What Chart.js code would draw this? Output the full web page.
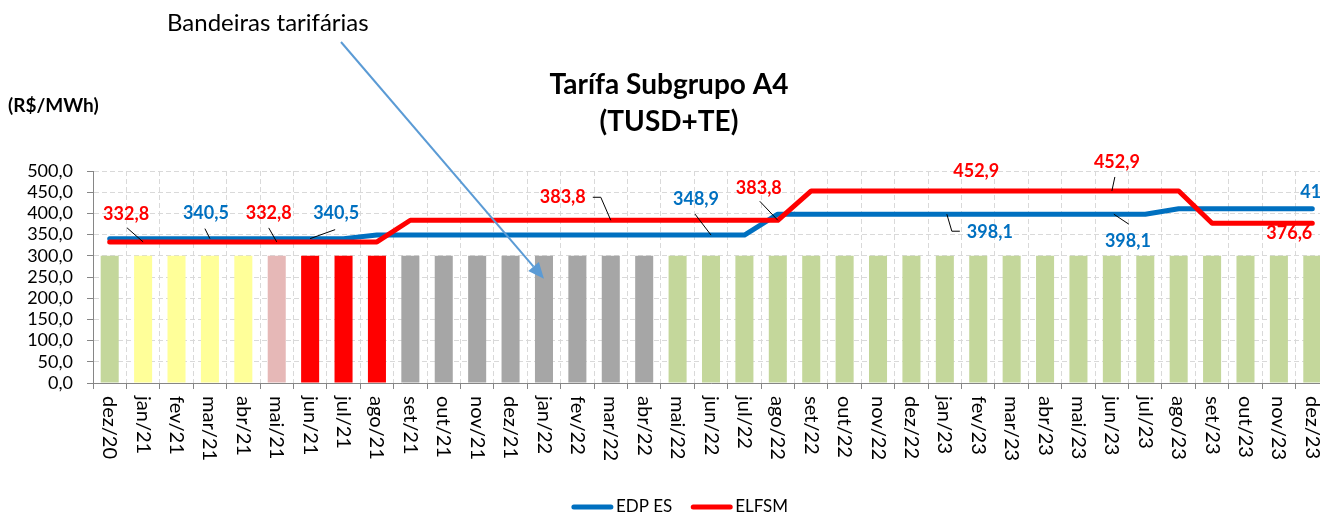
<!DOCTYPE html>
<html>
<head>
<meta charset="utf-8">
<script src="https://cdn.jsdelivr.net/npm/chart.js@4.4.1/dist/chart.umd.min.js"></script>
<style>
  html, body { margin: 0; padding: 0; background: #ffffff; overflow: hidden; width: 1320px; height: 516px; }
  #wrap { position: absolute; left: 0; top: 0; width: 1340px; height: 516px; }
</style>
</head>
<body>
<div id="wrap"><canvas id="chart"></canvas></div>
<script>
// Months on the horizontal axis
const months = [
  'dez/20',
  'jan/21', 'fev/21', 'mar/21', 'abr/21', 'mai/21', 'jun/21', 'jul/21', 'ago/21', 'set/21', 'out/21', 'nov/21', 'dez/21',
  'jan/22', 'fev/22', 'mar/22', 'abr/22', 'mai/22', 'jun/22', 'jul/22', 'ago/22', 'set/22', 'out/22', 'nov/22', 'dez/22',
  'jan/23', 'fev/23', 'mar/23', 'abr/23', 'mai/23', 'jun/23', 'jul/23', 'ago/23', 'set/23', 'out/23', 'nov/23', 'dez/23'
];

// Tariff flag in force each month
const flags = [
  'verde',
  'amarela', 'amarela', 'amarela', 'amarela', 'vermelha1', 'vermelha2', 'vermelha2', 'vermelha2', 'escassez', 'escassez', 'escassez', 'escassez',
  'escassez', 'escassez', 'escassez', 'escassez', 'verde', 'verde', 'verde', 'verde', 'verde', 'verde', 'verde', 'verde',
  'verde', 'verde', 'verde', 'verde', 'verde', 'verde', 'verde', 'verde', 'verde', 'verde', 'verde', 'verde'
];

// Height of the flag columns (R$/MWh scale)
const flagBars = [
  300,
  300, 300, 300, 300, 300, 300, 300, 300, 300, 300, 300, 300,
  300, 300, 300, 300, 300, 300, 300, 300, 300, 300, 300, 300,
  300, 300, 300, 300, 300, 300, 300, 300, 300, 300, 300, 300
];

// Tariff A4 (TUSD+TE), R$/MWh
const edpES = [
  340.5,
  340.5, 340.5, 340.5, 340.5, 340.5, 340.5, 340.5, 348.9, 348.9, 348.9, 348.9, 348.9,
  348.9, 348.9, 348.9, 348.9, 348.9, 348.9, 348.9, 398.1, 398.1, 398.1, 398.1, 398.1,
  398.1, 398.1, 398.1, 398.1, 398.1, 398.1, 398.1, 411.0, 411.0, 411.0, 411.0, 411.0
];
const elfsm = [
  332.8,
  332.8, 332.8, 332.8, 332.8, 332.8, 332.8, 332.8, 332.8, 383.8, 383.8, 383.8, 383.8,
  383.8, 383.8, 383.8, 383.8, 383.8, 383.8, 383.8, 383.8, 452.9, 452.9, 452.9, 452.9,
  452.9, 452.9, 452.9, 452.9, 452.9, 452.9, 452.9, 452.9, 376.6, 376.6, 376.6, 376.6
];

// Y axis ticks
const yTicks = [0, 50, 100, 150, 200, 250, 300, 350, 400, 450, 500];

const flagColors = {
  verde: '#C4D79B',
  amarela: '#FFFF99',
  vermelha1: '#E6B8B7',
  vermelha2: '#FF0000',
  escassez: '#A6A6A6'
};

const FONT = 'Lato, Carlito, Calibri, sans-serif';
const BLUE = '#0070C0';
const RED = '#FF0000';

const fmt = v => v.toFixed(1).replace('.', ',');

// Value callouts: series (0 = EDP ES, 1 = ELFSM), month index, text offset and leader path
const callouts = [
  { s: 1, i: 1,  dx: -17, dy: -28, leader: [[0, 0], [-16, -14]] },
  { s: 0, i: 3,  dx: -4,  dy: -25, leader: [[0, 0], [-5, -10]] },
  { s: 1, i: 5,  dx: -8,  dy: -29, leader: [[0, 0], [-8, -14]] },
  { s: 0, i: 6,  dx: 26,  dy: -25, leader: [[0, 0], [25, -9]] },
  { s: 1, i: 15, dx: -48, dy: -23, leader: [[0, 0], [-10, -23], [-18, -23]] },
  { s: 0, i: 18, dx: -15, dy: -36, leader: [[0, 0], [-16, -21]] },
  { s: 1, i: 20, dx: -19, dy: -32, leader: [[0, 0], [-18, -19]] },
  { s: 1, i: 26, dx: -2,  dy: -20, leader: null },
  { s: 0, i: 25, dx: 45,  dy: 18,  leader: [[2, 0], [7, 17], [15, 17]] },
  { s: 1, i: 30, dx: 5,   dy: -29, leader: [[0, 0], [3, -14]] },
  { s: 0, i: 30, dx: 16,  dy: 27,  leader: [[2, 0], [17, 10]] },
  { s: 1, i: 36, dx: -23, dy: 10,  leader: null },
  { s: 0, i: 36, dx: -12, dy: -17, leader: null, align: 'left' }
];

const decorations = {
  id: 'decorations',
  afterDraw(chart) {
    const ctx = chart.ctx;
    const area = chart.chartArea;
    const x = chart.scales.x;
    const y = chart.scales.y;

    ctx.save();

    // Rotated month labels
    ctx.fillStyle = '#000000';
    ctx.font = '20px ' + FONT;
    ctx.textAlign = 'left';
    ctx.textBaseline = 'middle';
    months.forEach((m, i) => {
      const px = x.getPixelForValue(i);
      ctx.save();
      ctx.translate(px, area.bottom + 13);
      ctx.rotate(Math.PI / 2);
      ctx.fillText(m, 0, 0);
      ctx.restore();
    });

    // Value callouts with leader lines
    const seriesMeta = [chart.getDatasetMeta(1), chart.getDatasetMeta(2)];
    const seriesData = [edpES, elfsm];
    const seriesColor = [BLUE, RED];
    ctx.font = 'bold 18px ' + FONT;
    callouts.forEach(c => {
      const pt = seriesMeta[c.s].data[c.i];
      if (c.leader) {
        ctx.strokeStyle = '#000000';
        ctx.lineWidth = 1;
        ctx.beginPath();
        c.leader.forEach(([lx, ly], k) => {
          if (k === 0) ctx.moveTo(pt.x + lx, pt.y + ly);
          else ctx.lineTo(pt.x + lx, pt.y + ly);
        });
        ctx.stroke();
      }
      ctx.fillStyle = seriesColor[c.s];
      ctx.textAlign = c.align || 'center';
      ctx.textBaseline = 'middle';
      ctx.fillText(fmt(seriesData[c.s][c.i]), pt.x + c.dx, pt.y + c.dy);
    });

    // Titles
    ctx.fillStyle = '#000000';
    ctx.textAlign = 'center';
    ctx.textBaseline = 'middle';
    ctx.font = 'bold 28px ' + FONT;
    ctx.fillText('Tarífa Subgrupo A4', 669, 85);
    ctx.fillText('(TUSD+TE)', 669, 122);

    ctx.textAlign = 'left';
    ctx.font = 'bold 19px ' + FONT;
    ctx.fillText('(R$/MWh)', 8, 106);

    ctx.font = '24px ' + FONT;
    ctx.fillText('Bandeiras tarifárias', 167, 23);

    // Arrow from the flag note to the scarcity columns
    const sx = 341, sy = 42;
    const tx = x.getPixelForValue(13);
    const ty = y.getPixelForValue(246);
    const ang = Math.atan2(ty - sy, tx - sx);
    const headLen = 16, headHalf = 7;
    const bx = tx - headLen * Math.cos(ang);
    const by = ty - headLen * Math.sin(ang);
    ctx.strokeStyle = '#5B9BD5';
    ctx.fillStyle = '#5B9BD5';
    ctx.lineWidth = 2;
    ctx.beginPath();
    ctx.moveTo(sx, sy);
    ctx.lineTo(bx, by);
    ctx.stroke();
    ctx.beginPath();
    ctx.moveTo(tx, ty);
    ctx.lineTo(bx + headHalf * Math.sin(ang), by - headHalf * Math.cos(ang));
    ctx.lineTo(bx - headHalf * Math.sin(ang), by + headHalf * Math.cos(ang));
    ctx.closePath();
    ctx.fill();

    // Legend for the two tariff lines
    const items = [chart.data.datasets[1], chart.data.datasets[2]];
    ctx.font = '17px ' + FONT;
    const lineLen = 41, gap = 3, spacing = 19;
    const widths = items.map(d => lineLen + gap + ctx.measureText(d.label).width);
    const total = widths[0] + spacing + widths[1];
    let lx = 680 - total / 2;
    const ly = 507;
    items.forEach((d, k) => {
      ctx.strokeStyle = d.borderColor;
      ctx.lineWidth = 5;
      ctx.lineCap = 'round';
      ctx.beginPath();
      ctx.moveTo(lx + 2, ly);
      ctx.lineTo(lx + lineLen - 2, ly);
      ctx.stroke();
      ctx.fillStyle = '#000000';
      ctx.textAlign = 'left';
      ctx.textBaseline = 'middle';
      ctx.fillText(d.label, lx + lineLen + gap, ly);
      lx += widths[k] + spacing;
    });

    ctx.restore();
  }
};

new Chart(document.getElementById('chart'), {
  type: 'bar',
  data: {
    labels: months,
    datasets: [
      {
        type: 'bar',
        label: 'Bandeiras',
        data: flagBars,
        backgroundColor: flags.map(f => flagColors[f]),
        borderWidth: 0,
        barPercentage: 0.54,
        categoryPercentage: 1,
        order: 2
      },
      {
        type: 'line',
        label: 'EDP ES',
        data: edpES,
        borderColor: BLUE,
        backgroundColor: BLUE,
        borderWidth: 5,
        pointRadius: 0,
        tension: 0,
        borderCapStyle: 'round',
        borderJoinStyle: 'round',
        order: 1
      },
      {
        type: 'line',
        label: 'ELFSM',
        data: elfsm,
        borderColor: RED,
        backgroundColor: RED,
        borderWidth: 5,
        pointRadius: 0,
        tension: 0,
        borderCapStyle: 'round',
        borderJoinStyle: 'round',
        order: 0
      }
    ]
  },
  options: {
    responsive: true,
    maintainAspectRatio: false,
    animation: false,
    devicePixelRatio: 1,
    layout: { padding: { top: 171, right: 11, bottom: 127, left: 0 } },
    plugins: {
      legend: { display: false },
      tooltip: { enabled: false },
      title: { display: false }
    },
    scales: {
      x: {
        offset: true,
        afterFit: s => { s.height = 6; },
        ticks: { display: false },
        grid: {
          offset: true,
          color: '#D9D9D9',
          lineWidth: 1,
          drawTicks: true,
          tickLength: 6,
          tickColor: '#868686',
          tickBorderDash: []
        },
        border: { display: true, color: '#868686', width: 1, dash: [5, 3] }
      },
      y: {
        min: 0,
        max: 500,
        afterFit: s => { s.width = 93; },
        afterBuildTicks: s => { s.ticks = yTicks.map(v => ({ value: v })); },
        ticks: {
          color: '#000000',
          font: { family: FONT, size: 18 },
          padding: 14,
          autoSkip: false,
          callback: v => fmt(v)
        },
        grid: {
          color: '#D9D9D9',
          lineWidth: 1,
          drawTicks: true,
          tickLength: 6,
          tickColor: '#868686',
          tickBorderDash: []
        },
        border: { display: true, color: '#868686', width: 1, dash: [5, 3] }
      }
    }
  },
  plugins: [decorations]
});
</script>
</body>
</html>
